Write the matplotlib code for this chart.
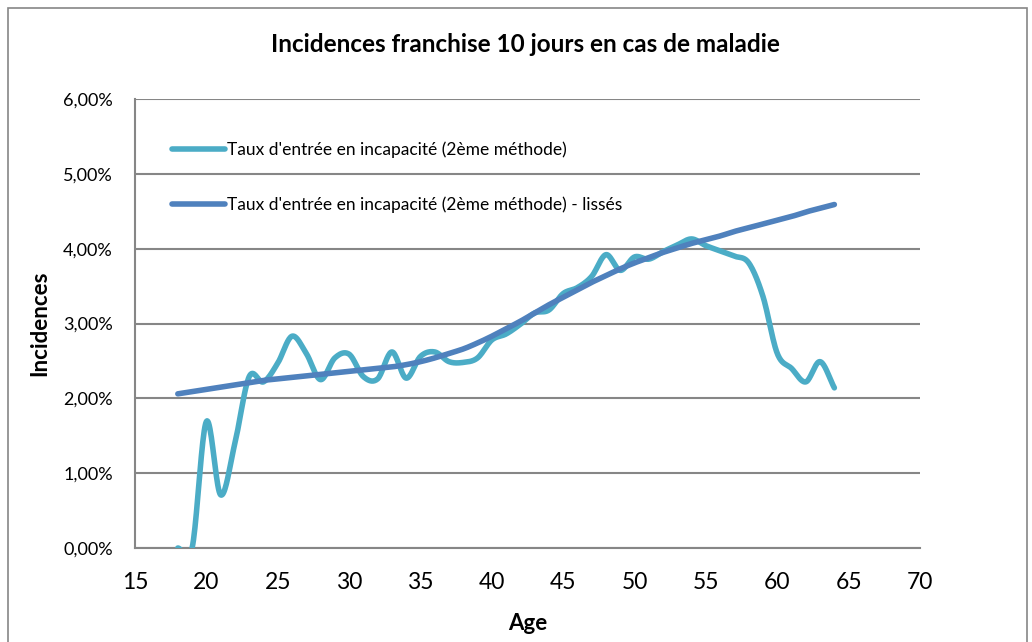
import numpy as np
import matplotlib
matplotlib.use("Agg")
import matplotlib.pyplot as plt
from matplotlib.patches import Rectangle
from matplotlib.ticker import FuncFormatter

plt.rcParams['font.family'] = ['Lato', 'DejaVu Sans']

ages = list(range(18, 65))
taux = [0.00, 0.00, 1.69, 0.71, 1.40, 2.29, 2.22, 2.47, 2.83, 2.60,
        2.25, 2.54, 2.59, 2.29, 2.26, 2.62, 2.27, 2.56, 2.62, 2.49,
        2.48, 2.54, 2.78, 2.86, 2.99, 3.14, 3.18, 3.40, 3.48, 3.63,
        3.92, 3.71, 3.89, 3.86, 3.96, 4.05, 4.13, 4.04, 3.97, 3.90,
        3.81, 3.36, 2.60, 2.40, 2.22, 2.49, 2.14]
lisses = [2.06, 2.09, 2.12, 2.15, 2.18, 2.21, 2.24, 2.26, 2.28, 2.30,
          2.32, 2.34, 2.36, 2.38, 2.40, 2.42, 2.45, 2.49, 2.54, 2.60,
          2.66, 2.74, 2.83, 2.93, 3.03, 3.14, 3.25, 3.35, 3.45, 3.55,
          3.64, 3.73, 3.81, 3.88, 3.95, 4.01, 4.07, 4.12, 4.17, 4.23,
          4.28, 4.33, 4.38, 4.43, 4.49, 4.54, 4.59]
label1 = "Taux d'entrée en incapacité (2ème méthode)"
label2 = "Taux d'entrée en incapacité (2ème méthode) - lissés"
title = "Incidences franchise 10 jours en cas de maladie"


def smooth(x, y, n=20):
    # Catmull-Rom rendering of the data points (like Excel's smoothed line)
    x = np.asarray(x, float); y = np.asarray(y, float)
    px = np.concatenate([[2*x[0]-x[1]], x, [2*x[-1]-x[-2]]])
    py = np.concatenate([[2*y[0]-y[1]], y, [2*y[-1]-y[-2]]])
    ox, oy = [], []
    t = np.linspace(0, 1, n, endpoint=False)
    for i in range(1, len(px)-2):
        for arr, out in ((px, ox), (py, oy)):
            p0, p1, p2, p3 = arr[i-1], arr[i], arr[i+1], arr[i+2]
            out.extend(0.5*((2*p1) + (-p0+p2)*t + (2*p0-5*p1+4*p2-p3)*t**2
                            + (-p0+3*p1-3*p2+p3)*t**3))
    ox.append(x[-1]); oy.append(y[-1])
    return np.array(ox), np.array(oy)


fig = plt.figure(figsize=(10.32, 6.42), dpi=100)
fig.patches.append(Rectangle((8/1032, -0.1), (1027-8)/1032, 1.1 - 8/642,
                             transform=fig.transFigure, fill=False,
                             edgecolor='#868686', linewidth=1.2))
ax = fig.add_axes([135/1032, 1-548/642, 785/1032, 449/642])

x1, y1 = smooth(ages, taux)
x2, y2 = smooth(ages, lisses)
ax.plot(x1, np.array(y1)/100, color='#4BACC6', lw=4, solid_capstyle='round',
        label=label1, zorder=3)
ax.plot(x2, np.array(y2)/100, color='#4F81BD', lw=4, solid_capstyle='round',
        label=label2, zorder=4)

ax.set_xlim(15, 70)
ax.set_ylim(0, 0.06)
ax.set_xticks(range(15, 71, 5))
ax.set_yticks(np.arange(0, 0.0601, 0.01))
ax.yaxis.set_major_formatter(FuncFormatter(lambda v, p: f"{v*100:.2f}%".replace('.', ',')))
ax.grid(axis='y', color='#868686', lw=1.5)
ax.set_axisbelow(True)
for s in ['top', 'right']:
    ax.spines[s].set_visible(False)
for s in ['left', 'bottom']:
    ax.spines[s].set_color('#868686')
    ax.spines[s].set_linewidth(1.5)
ax.tick_params(axis='y', length=0, labelsize=13, pad=16)
ax.tick_params(axis='x', length=0, labelsize=16.5, pad=17)

ax.set_xlabel('Age', fontsize=16, fontweight='bold', labelpad=15)
ax.set_ylabel('Incidences', fontsize=16, fontweight='bold', labelpad=9)
fig.text(525/1032, 1-45/642, title, ha='center', va='center',
         fontsize=17.5, fontweight='bold')

ax.legend(loc='upper left', bbox_to_anchor=(0.027, 0.94), frameon=False,
          fontsize=12.5, labelspacing=2.2, handlelength=3.05, handletextpad=0.15)

fig.savefig('out.png', dpi=100)
